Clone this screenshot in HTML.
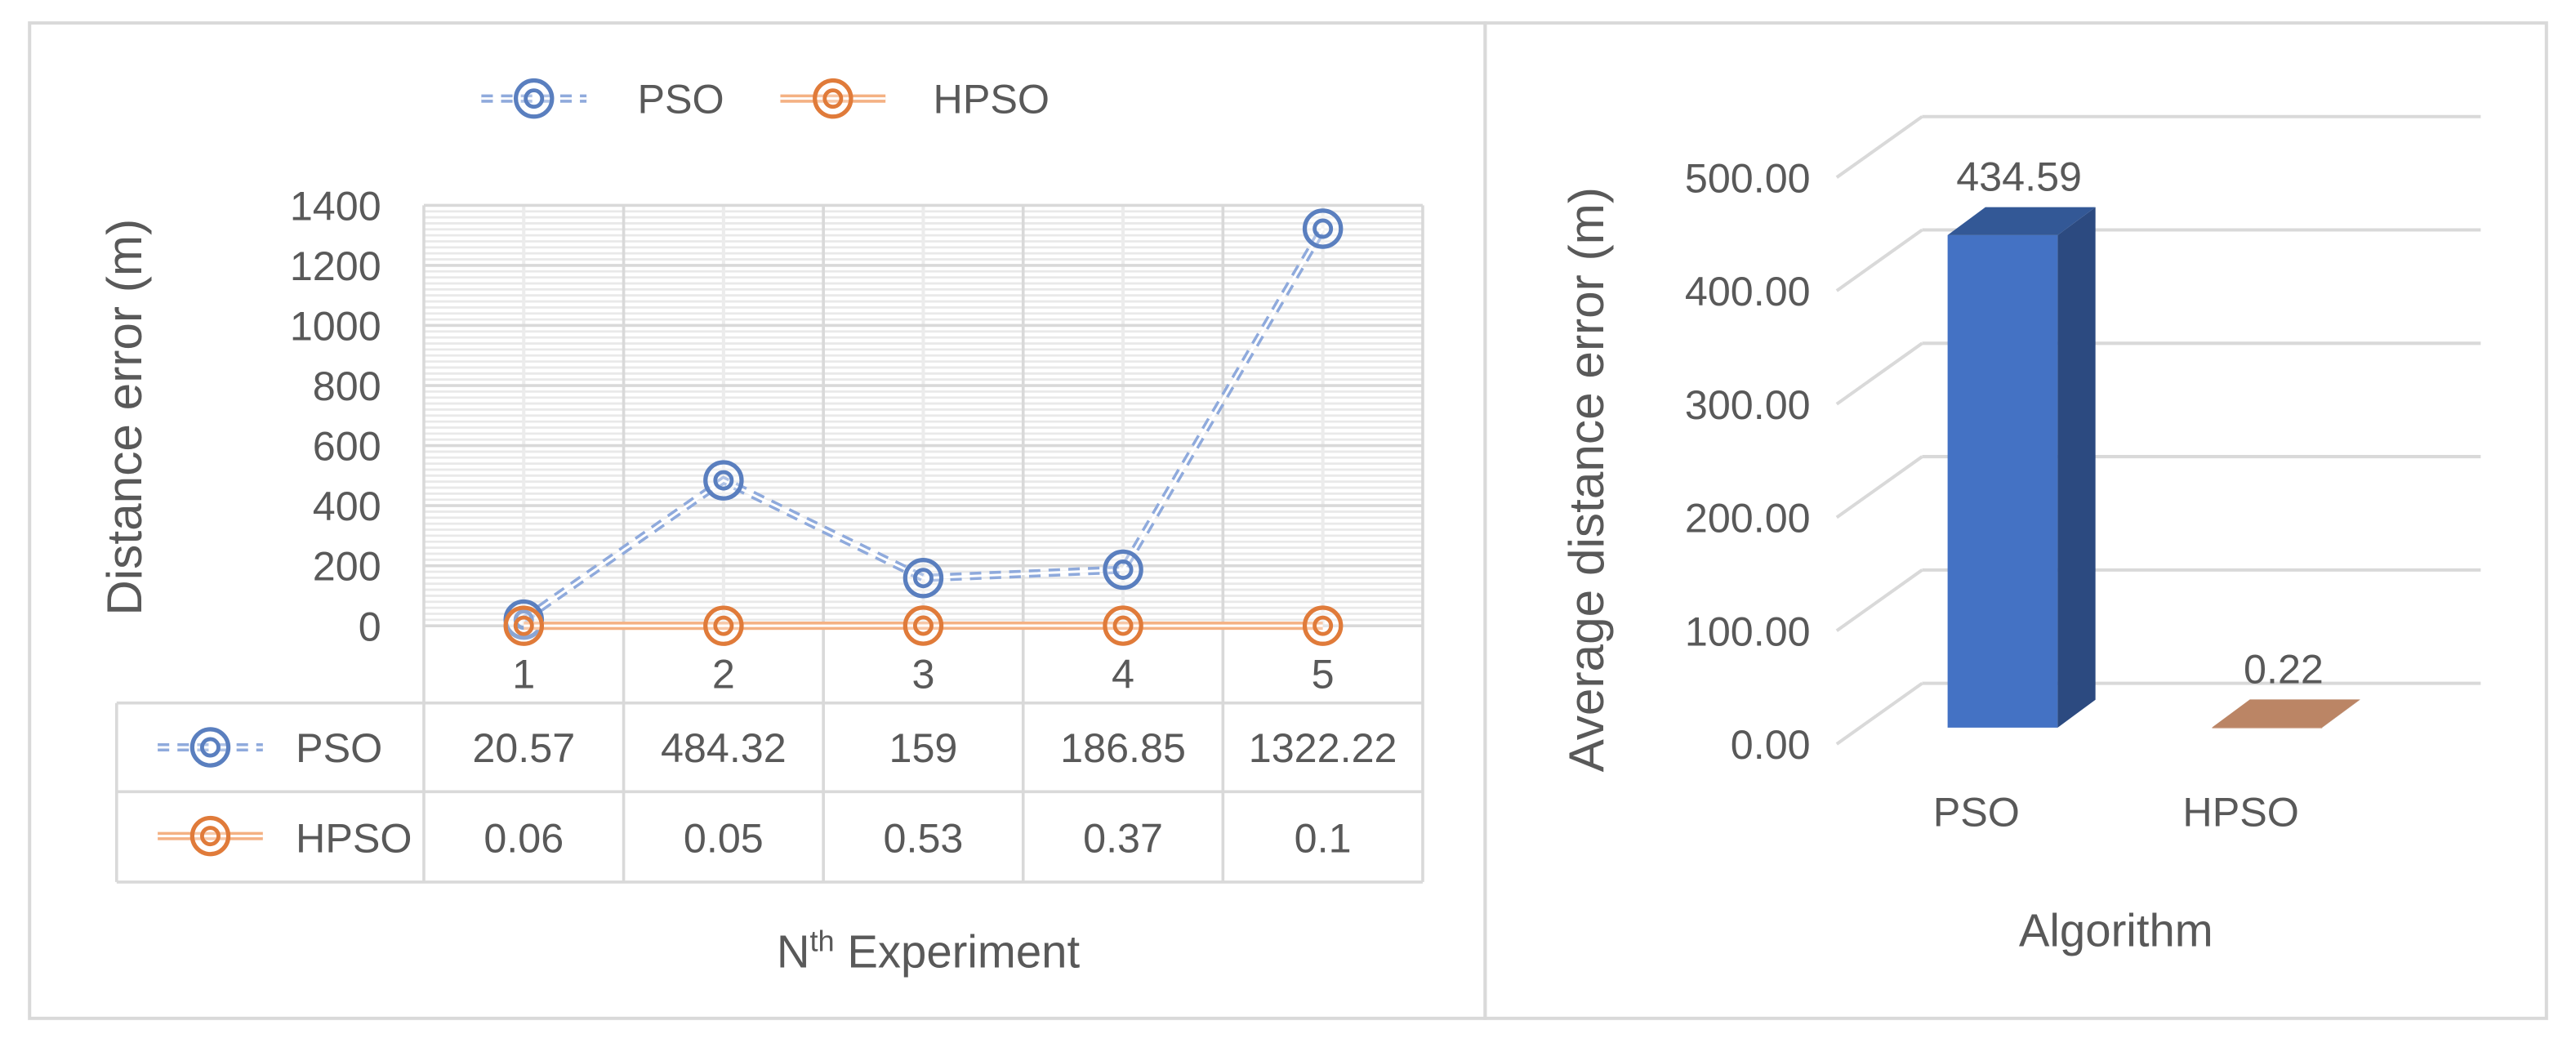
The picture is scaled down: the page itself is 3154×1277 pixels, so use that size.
<!DOCTYPE html>
<html><head><meta charset="utf-8"><style>
html,body{margin:0;padding:0;background:#fff;}
svg{display:block;}
text{font-family:"Liberation Sans",sans-serif;fill:#595959;}
</style></head><body>
<svg id="chart" width="3154" height="1277" viewBox="0 0 1568 635" preserveAspectRatio="none" xmlns="http://www.w3.org/2000/svg">
<rect x="0" y="0" width="1568" height="635" fill="#fff"/>
<rect x="18" y="14" width="886" height="606" fill="none" stroke="#d9d9d9" stroke-width="2"/>
<rect x="904" y="14" width="646" height="606" fill="none" stroke="#d9d9d9" stroke-width="2"/>
<g id="left"></g>
<g id="right"></g>
</svg>
<script>
const categories = ["1","2","3","4","5"];
const psoValues = [20.57, 484.32, 159, 186.85, 1322.22];
const hpsoValues = [0.06, 0.05, 0.53, 0.37, 0.1];
const psoLabels = ["20.57","484.32","159","186.85","1322.22"];
const hpsoLabels = ["0.06","0.05","0.53","0.37","0.1"];
const yTicks = [0,200,400,600,800,1000,1200,1400];
const barCategories = ["PSO","HPSO"];
const barValues = [434.59, 0.22];
const barLabels = ["434.59","0.22"];
const barTicks = [0,100,200,300,400,500];
const barTickLabels = ["0.00","100.00","200.00","300.00","400.00","500.00"];

const NS = "http://www.w3.org/2000/svg";
function mk(parent, tag, attrs, txt){
  const e = document.createElementNS(NS, tag);
  for (const k in attrs) e.setAttribute(k, attrs[k]);
  if (txt !== undefined) e.textContent = txt;
  parent.appendChild(e);
  return e;
}
const L = document.getElementById('left');
const R = document.getElementById('right');
const FS = 25;

// ---- Left chart ----
const px0 = 258, px1 = 866, py0 = 381, py1 = 125, ymax = 1400;
const colW = (px1 - px0) / categories.length;
const xs = i => px0 + colW * (i + 0.5);
const ys = v => py0 - (v / ymax) * (py0 - py1);

for (let v = 20; v < ymax; v += 20) {
  if (v % 200 === 0) continue;
  const ln = mk(L, 'line', {x1:px0, x2:px1, y1:ys(v), y2:ys(v), stroke:'#e9e9e9', 'stroke-width':1.4});
  
  
}
categories.forEach((c, i) => {
  const ln = mk(L, 'line', {x1:xs(i), x2:xs(i), y1:py1, y2:py0, stroke:'#ececec', 'stroke-width':2});
  
  
});
yTicks.forEach(v => {
  const ln = mk(L, 'line', {x1:px0, x2:px1, y1:ys(v), y2:ys(v), stroke:'#d9d9d9', 'stroke-width':1.8});
  
  
  const t = mk(L, 'text', {x:232, y:ys(v) + 9, 'text-anchor':'end', 'font-size':FS}, String(v));
  
  
});
for (let i = 0; i <= categories.length; i++) {
  const x = px0 + colW * i;
  const ln = mk(L, 'line', {x1:x, x2:x, y1:py1, y2:537, stroke:'#d9d9d9', 'stroke-width':1.8});
  
  
}
[428, 482, 537].forEach(y => {
  const ln = mk(L, 'line', {x1:71, x2:px1, y1:y, y2:y, stroke:'#d9d9d9', 'stroke-width':1.8});
  
  
});
{
  const ln = mk(L, 'line', {x1:71, x2:71, y1:428, y2:537, stroke:'#d9d9d9', 'stroke-width':1.8});
  
  
}
categories.forEach((c, i) => {
  const t = mk(L, 'text', {x:xs(i), y:419, 'text-anchor':'middle', 'font-size':FS}, c);
  
  
});
psoLabels.forEach((s, i) => {
  const t = mk(L, 'text', {x:xs(i), y:464, 'text-anchor':'middle', 'font-size':FS}, s);
  
  
});
hpsoLabels.forEach((s, i) => {
  const t = mk(L, 'text', {x:xs(i), y:519, 'text-anchor':'middle', 'font-size':FS}, s);
  
  
});

function seriesLine(g, pts, color, dashed, name){
  const d = pts.map((p, i) => (i ? 'L' : 'M') + p[0] + ' ' + p[1]).join(' ');
  const a = {d:d, fill:'none', stroke:color, 'stroke-width':5};
  if (dashed) a['stroke-dasharray'] = '7 5';
  const p1 = mk(g, 'path', a);
  
  
  const p2 = mk(g, 'path', {d:d, fill:'none', stroke:'#fff', 'stroke-width':1.5});
  
  
}
function marker(g, x, y, color, name){
  const c1 = mk(g, 'circle', {cx:x, cy:y, r:11, fill:'rgba(255,255,255,0.3)', stroke:color, 'stroke-width':2.6});
  
  
  const c2 = mk(g, 'circle', {cx:x, cy:y, r:5, fill:'none', stroke:color, 'stroke-width':2.4});
  
  
}
const psoPts = psoValues.map((v, i) => [xs(i), ys(v)]);
const hpsoPts = hpsoValues.map((v, i) => [xs(i), ys(v)]);
seriesLine(L, psoPts, '#8faadc', true, 'pso-line');
psoPts.forEach(p => marker(L, p[0], p[1], '#5a7fbf', 'pso-point'));
seriesLine(L, hpsoPts, '#f4b183', false, 'hpso-line');
hpsoPts.forEach(p => marker(L, p[0], p[1], '#e07b3a', 'hpso-point'));

function legendKey(g, x, y, color, lineColor, dashed, name){
  const a = {x1:x - 32, x2:x + 32, y1:y, y2:y, stroke:lineColor, 'stroke-width':5};
  if (dashed) a['stroke-dasharray'] = '7 5';
  const l1 = mk(g, 'line', a);
  
  
  const l2 = mk(g, 'line', {x1:x - 32, x2:x + 32, y1:y, y2:y, stroke:'#fff', 'stroke-width':1.5});
  
  
  marker(g, x, y, color, name + '-marker');
}
legendKey(L, 128, 455, '#5a7fbf', '#8faadc', true, 'table-pso-key');
legendKey(L, 128, 509, '#e07b3a', '#f4b183', false, 'table-hpso-key');
{
  let t = mk(L, 'text', {x:180, y:464, 'font-size':FS}, 'PSO');
   
  t = mk(L, 'text', {x:180, y:519, 'font-size':FS}, 'HPSO');
   
}
legendKey(L, 325, 60, '#5a7fbf', '#8faadc', true, 'legend-pso');
legendKey(L, 507, 60, '#e07b3a', '#f4b183', false, 'legend-hpso');
{
  let t = mk(L, 'text', {x:388, y:69, 'font-size':FS}, 'PSO');
   
  t = mk(L, 'text', {x:568, y:69, 'font-size':FS}, 'HPSO');
   
  t = mk(L, 'text', {x:0, y:0, 'font-size':30, 'text-anchor':'middle', transform:'translate(86,254) rotate(-90)'}, 'Distance error (m)');
   
  t = mk(L, 'text', {x:565, y:589, 'font-size':28, 'text-anchor':'middle'});
   
  mk(t, 'tspan', {}, 'N');
  mk(t, 'tspan', {dy:-10, 'font-size':18}, 'th');
  mk(t, 'tspan', {dy:10}, ' Experiment');
}

// ---- Right chart (3D column) ----
const bx0 = 1118, bxEnd = 1510, wdx = 52, wdy = -37;
const back0 = 416, bmax = 500, bscale = 0.69;
const yb = v => back0 - v * bscale;
barTicks.forEach((v, i) => {
  const yBack = yb(v);
  const d = mk(R, 'line', {x1:bx0, y1:yBack - wdy, x2:bx0 + wdx, y2:yBack, stroke:'#d9d9d9', 'stroke-width':2});
  
  
  const h = mk(R, 'line', {x1:bx0 + wdx, y1:yBack, x2:bxEnd, y2:yBack, stroke:'#d9d9d9', 'stroke-width':2});
  
  
  const t = mk(R, 'text', {x:1102, y:yBack - wdy + 9, 'text-anchor':'end', 'font-size':FS}, barTickLabels[i]);
  
  
});
const barCx = [1219, 1380];
const bw = 67, bdx = 23, bdy = -17, frontOff = 27;
barValues.forEach((v, i) => {
  const xl = barCx[i] - bw / 2, xr = xl + bw;
  const yBot = back0 + frontOff, yTop = yBot - v * bscale;
  const front = i === 0 ? '#4472c4' : '#c0896a';
  const side = i === 0 ? '#2c4a80' : '#a06a4a';
  const top = i === 0 ? '#335896' : '#bb8565';
  const f = mk(R, 'rect', {x:xl, y:yTop, width:bw, height:Math.max(yBot - yTop, 0.5), fill:front});
  
  
  const s = mk(R, 'polygon', {points:`${xr},${yTop} ${xr+bdx},${yTop+bdy} ${xr+bdx},${yBot+bdy} ${xr},${yBot}`, fill:side});
  
  
  const tp = mk(R, 'polygon', {points:`${xl},${yTop} ${xl+bdx},${yTop+bdy} ${xr+bdx},${yTop+bdy} ${xr},${yTop}`, fill:top});
  
  
  const lb = mk(R, 'text', {x:barCx[i] + 10, y:yTop + bdy - 10, 'text-anchor':'middle', 'font-size':FS, fill:'#404040'}, barLabels[i]);
  
  
  const cl = mk(R, 'text', {x:barCx[i] - 16, y:503, 'text-anchor':'middle', 'font-size':FS}, barCategories[i]);
  
  
});
{
  let t = mk(R, 'text', {x:1288, y:576, 'text-anchor':'middle', 'font-size':28}, 'Algorithm');
   
  t = mk(R, 'text', {x:0, y:0, 'font-size':30, 'text-anchor':'middle', transform:'translate(976,292) rotate(-90)'}, 'Average distance error (m)');
   
}
</script>
</body></html>
